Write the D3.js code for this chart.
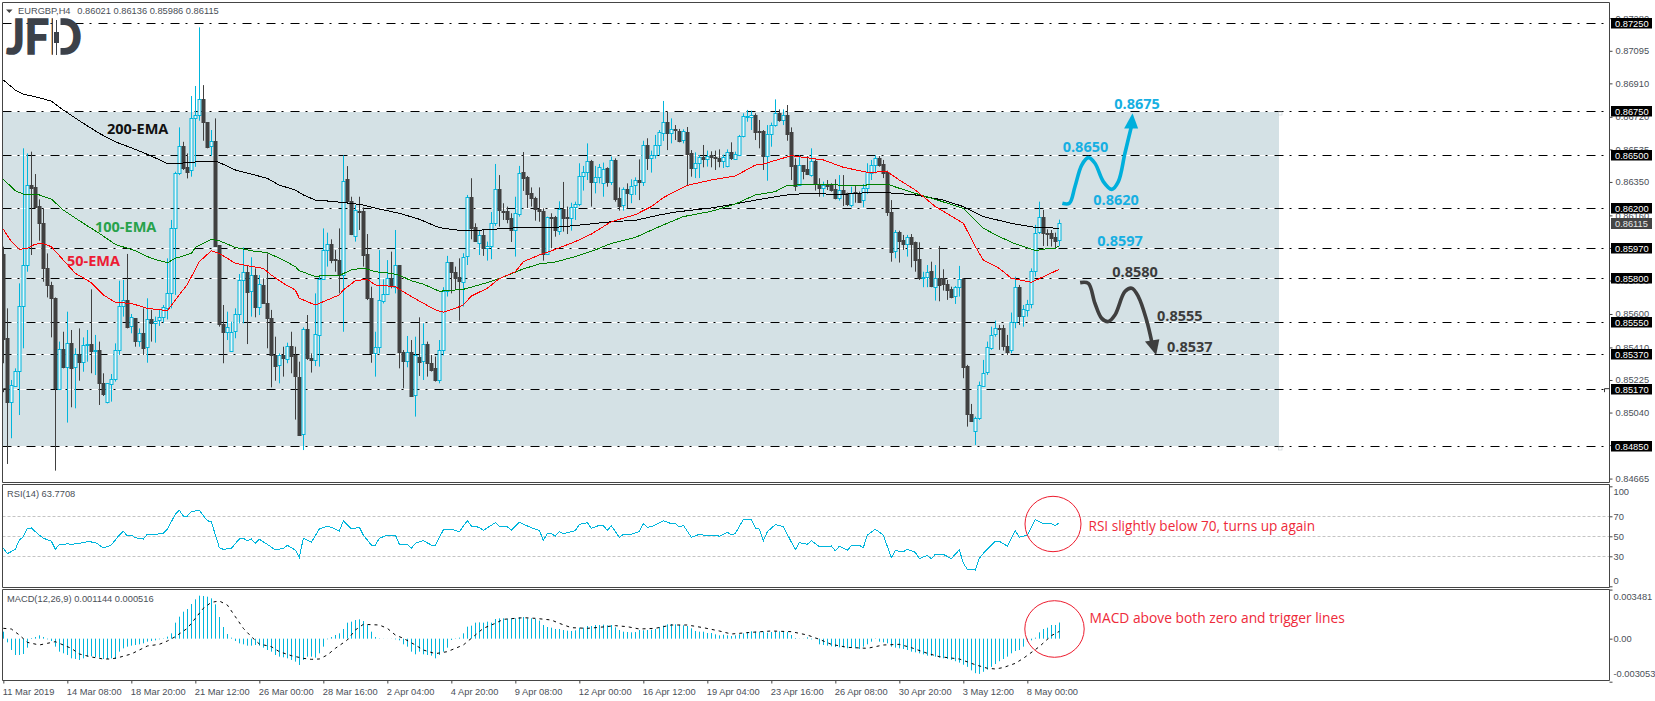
<!DOCTYPE html>
<html>
<head>
<meta charset="utf-8">
<script src="https://cdnjs.cloudflare.com/ajax/libs/d3/7.8.5/d3.min.js"></script>
<style>
  html, body { margin: 0; padding: 0; background: #fff; }
  svg { display: block; }
  text { font-family: "Liberation Sans", sans-serif; }
</style>
</head>
<body>
<div id="chart"></div>
<script>
// EURGBP H4 candles, prices in 1/100000
const opens = [
  85941,85462,85096,85195,85274,85645,85878,86332,86319,86213,
  86115,85859,85765,85689,85176,85399,85297,85433,85297,85373,
  85329,85422,85428,85388,85395,85210,85096,85206,85233,85395,
  85645,85679,85528,85575,85443,85490,85411,85569,85551,85566,
  85581,85638,85717,86088,86399,86554,86436,86414,86711,86728,
  86819,86690,86550,86580,85990,85541,85494,85392,85499,85598,
  85793,85840,85727,85821,85641,85765,85664,85575,85367,85308,
  85365,85346,85418,85365,85244,84915,85513,85348,85335,85481,
  85797,85963,85997,85910,85906,85821,86365,86240,86043,86185,
  86187,85941,85693,85380,85414,85672,85713,85802,85751,85876,
  85386,85335,85384,85138,85358,85329,85428,85320,85292,85225,
  85392,85729,85894,85839,85808,85784,85926,86263,86092,86001,
  86049,85977,85983,86115,86308,86187,86187,86145,86077,86172,
  86405,86378,86285,86259,86194,86185,85941,86149,86151,86073,
  86196,86149,86145,86206,86221,86380,86403,86467,86346,86376,
  86342,86429,86352,86475,86259,86217,86310,86282,86329,86359,
  86346,86558,86482,86501,86558,86626,86689,86626,86649,86641,
  86588,86634,86513,86429,86456,86492,86482,86501,86490,86484,
  86469,86437,86518,86482,86505,86611,86721,86721,86730,86639,
  86639,86497,86620,86670,86743,86702,86730,86634,86446,86331,
  86446,86422,86389,86469,86336,86312,86333,86333,86308,86255,
  86304,86285,86221,86293,86289,86244,86314,86403,86446,86484,
  86452,86405,86179,85956,86066,86020,85998,86039,86007,85911,
  85805,85808,85842,85755,85805,85803,85769,85740,85699,85752,
  85797,85307,85032,84932,85006,85195,85267,85411,85483,85521,
  85521,85418,85392,85553,85752,85585,85623,85655,85841,86062,
  86149,86062,86062,86036,86021
]
const highs = [
  85982,85632,85225,85291,85774,86541,86512,86522,86395,86251,
  86200,85944,85783,85694,85443,85499,85613,85509,85405,85518,
  85467,85509,85740,85481,85443,85263,85206,85259,85433,85789,
  85793,85941,85600,85575,85518,85632,85689,85623,85585,85623,
  85651,85916,86134,86408,86660,86578,86512,86838,86895,87228,
  86900,86690,86645,86711,85990,85651,85613,85556,85632,85827,
  85978,85878,85922,85859,85821,85802,85944,85623,85471,85376,
  85414,85437,85499,85414,85329,85524,85594,85376,85717,85821,
  86086,86062,86024,85963,86086,86501,86440,86266,86219,86266,
  86206,86054,85755,85499,85963,85797,85906,85954,86077,85878,
  85395,85475,85452,85471,85581,85547,85443,85367,85358,85452,
  85752,85930,85895,85869,85916,85945,86276,86371,86115,86077,
  86077,86011,86179,86452,86389,86229,86210,86172,86266,86441,
  86520,86384,86319,86266,86319,86200,86153,86172,86157,86240,
  86350,86210,86232,86238,86456,86441,86569,86475,86441,86452,
  86460,86433,86494,86484,86319,86319,86342,86365,86376,86478,
  86584,86598,86528,86617,86645,86810,86749,86711,86673,86651,
  86649,86662,86531,86518,86503,86560,86528,86524,86528,86535,
  86505,86535,86575,86522,86617,86740,86759,86755,86740,86702,
  86645,86673,86687,86819,86762,86762,86787,86660,86484,86503,
  86446,86497,86541,86478,86371,86352,86361,86342,86365,86389,
  86389,86289,86323,86327,86295,86338,86456,86475,86501,86497,
  86475,86414,86247,86077,86073,86049,86049,86054,86011,86007,
  85840,85878,85897,85878,85986,85854,85793,85755,85759,85873,
  85803,85311,85089,85017,85216,85339,85443,85528,85562,85538,
  85538,85481,85608,85812,85765,85651,85680,85859,86106,86238,
  86191,86081,86077,86062,86136
]
const lows = [
  85320,84748,84894,85187,85026,85405,85840,85935,86200,86016,
  85783,85694,85467,84710,85168,85291,84983,85070,85064,85221,
  85272,85329,85263,85253,85083,85134,85092,85102,85216,85367,
  85585,85518,85490,85414,85414,85367,85323,85443,85437,85532,
  85551,85569,85632,85708,86389,86418,86370,86380,86436,86698,
  86584,86541,86497,85982,85528,85320,85452,85392,85462,85547,
  85547,85429,85585,85581,85594,85664,85405,85183,85221,85206,
  85244,85320,85263,85000,84913,84827,85339,85267,85304,85301,
  85793,85869,85888,85840,85717,85499,86228,86048,86011,86077,
  85869,85679,85323,85244,85376,85660,85708,85746,85717,85291,
  85178,85297,85130,85017,85248,85225,85244,85273,85216,85206,
  85365,85699,85717,85736,85562,85642,85878,86024,86011,85935,
  85930,85903,85911,86100,86096,86134,86115,86009,85926,86153,
  86299,86202,86210,86130,86124,85903,85935,85973,86039,86049,
  86068,86054,86073,86134,86213,86301,86361,86210,86285,86342,
  86266,86323,86333,86238,86187,86187,86200,86229,86276,86247,
  86327,86418,86403,86482,86501,86583,86531,86569,86588,86575,
  86569,86331,86380,86372,86372,86433,86437,86433,86418,86433,
  86429,86433,86475,86475,86497,86603,86692,86645,86588,86541,
  86418,86357,86550,86664,86692,86673,86584,86361,86299,86327,
  86365,86389,86380,86301,86266,86266,86304,86295,86251,86244,
  86213,86213,86206,86232,86232,86206,86282,86361,86399,86437,
  86372,86157,85897,85916,85892,85964,85926,85865,85840,85793,
  85752,85752,85752,85676,85672,85733,85680,85689,85657,85699,
  85235,84960,84989,84856,84998,85187,85254,85396,85471,85396,
  85392,85367,85377,85519,85538,85528,85585,85632,85812,86054,
  85986,85986,85983,85973,85986
]
const closes = [
  85460,85096,85195,85278,85645,85878,86330,86317,86206,86115,
  85859,85761,85689,85176,85403,85297,85433,85293,85373,85329,
  85424,85428,85386,85395,85210,85145,85206,85233,85395,85645,
  85679,85524,85581,85443,85490,85407,85569,85547,85562,85581,
  85638,85721,86086,86399,86554,86427,86410,86711,86728,86819,
  86686,86550,86580,85986,85541,85494,85524,85499,85598,85793,
  85840,85727,85819,85641,85770,85664,85581,85367,85305,85365,
  85346,85418,85361,85244,84915,85513,85346,85335,85484,85797,
  85963,85997,85906,85903,85821,86357,86238,86054,86190,86179,
  85935,85693,85380,85414,85679,85713,85802,85755,85876,85380,
  85335,85384,85134,85365,85328,85428,85320,85282,85225,85396,
  85729,85894,85835,85805,85784,85926,86263,86088,86015,86047,
  85977,85986,86115,86308,86187,86181,86142,86077,86172,86403,
  86372,86283,86255,86194,86181,85939,86149,86142,86077,86196,
  86143,86142,86206,86223,86382,86405,86467,86350,86376,86433,
  86424,86350,86475,86255,86213,86308,86289,86329,86359,86346,
  86558,86482,86501,86558,86632,86689,86624,86649,86641,86583,
  86637,86509,86429,86456,86490,86482,86497,86488,86482,86469,
  86494,86518,86482,86509,86611,86725,86725,86730,86636,86636,
  86497,86622,86673,86740,86702,86728,86622,86441,86327,86446,
  86414,86393,86467,86338,86312,86331,86327,86304,86257,86302,
  86285,86221,86289,86285,86240,86314,86407,86448,86486,86446,
  86403,86179,85954,86066,86017,85998,86036,86001,85907,85805,
  85812,85837,85755,85805,85767,85767,85736,85695,85752,85797,
  85297,85036,84991,85008,85195,85267,85411,85483,85519,85517,
  85418,85386,85553,85752,85585,85627,85655,85844,86058,86149,
  86058,86058,86036,86013,86115
]

// moving averages, [bar, price]
const ema200 = [[0,86929],[3,86872],[5,86849],[9,86828],[12,86809],[15,86758],[20,86683],[24,86626],[28,86578],[33,86535],[37,86497],[41,86455],[43,86454],[49,86465],[53,86469],[56,86440],[58,86418],[62,86395],[66,86370],[69,86332],[73,86304],[75,86276],[78,86247],[82,86240],[87,86228],[90,86219],[94,86196],[99,86172],[104,86138],[109,86090],[114,86075],[120,86077],[126,86087],[133,86094],[139,86094],[145,86107],[152,86124],[158,86132],[164,86162],[168,86179],[177,86202],[183,86225],[189,86251],[197,86280],[204,86285],[208,86276],[217,86291],[221,86289],[228,86276],[235,86247],[240,86210],[245,86153],[252,86115],[258,86092],[264,86087]]
const ema100 = [[0,86365],[3,86300],[5,86281],[9,86276],[12,86253],[15,86190],[20,86115],[24,86058],[28,85995],[33,85959],[37,85916],[41,85891],[43,85916],[47,85944],[48,85978],[52,86024],[54,86016],[58,85978],[62,85959],[66,85948],[70,85906],[73,85869],[74,85846],[78,85812],[80,85819],[84,85819],[87,85850],[90,85861],[93,85840],[97,85831],[99,85820],[102,85789],[105,85769],[109,85729],[115,85740],[121,85778],[124,85801],[130,85856],[134,85884],[138,85895],[143,85926],[148,85964],[152,86001],[158,86035],[165,86106],[170,86153],[177,86183],[183,86225],[188,86276],[193,86295],[196,86331],[205,86337],[210,86331],[215,86331],[218,86337],[221,86337],[224,86314],[228,86285],[233,86251],[240,86200],[245,86087],[249,86039],[253,85998],[258,85960],[261,85971],[263,85973],[264,85988]]
const ema50 = [[0,86081],[2,86011],[4,85967],[6,85973],[8,85997],[10,85999],[12,85982],[15,85906],[18,85831],[22,85778],[25,85708],[28,85666],[32,85660],[36,85632],[41,85619],[43,85679],[46,85768],[49,85897],[52,85959],[54,85944],[58,85888],[61,85874],[65,85859],[67,85821],[70,85774],[73,85736],[74,85689],[78,85651],[82,85689],[84,85708],[85,85736],[88,85789],[91,85797],[93,85765],[98,85755],[102,85699],[105,85661],[108,85623],[110,85610],[113,85632],[115,85651],[117,85702],[121,85746],[124,85801],[128,85840],[130,85897],[134,85935],[138,85967],[143,86011],[147,86054],[152,86124],[158,86164],[162,86210],[165,86261],[171,86331],[177,86361],[183,86384],[188,86446],[190,86452],[197,86499],[205,86475],[210,86433],[216,86405],[221,86408],[224,86361],[228,86304],[233,86210],[240,86115],[243,85983],[245,85907],[249,85859],[252,85803],[257,85780],[261,85822],[264,85854]]

// RSI(14), [bar, value]
const rsiPoints = [[0,38],[1,32.6],[3,37],[4,46.3],[5,49.6],[6,58],[7,58.3],[8,54.6],[10,48],[12,45.3],[13,37],[14,42],[15,41.3],[16,42.6],[17,42],[19,43],[21,44.6],[23,44],[25,38.3],[27,41.3],[29,51.3],[30,55],[31,50.3],[32,51.3],[33,48.6],[35,47.3],[36,52],[38,52],[40,53],[41,57.3],[43,72],[44,76],[45,70.3],[46,70.3],[47,74.6],[49,76],[51,65.6],[52,64.6],[54,38.6],[55,37],[57,38],[59,47.3],[60,48],[61,45.3],[62,47.3],[63,43],[64,47],[66,42],[68,36.3],[70,38],[71,41],[73,36.3],[74,29],[75,48],[77,44],[79,57.3],[81,60.3],[83,57.3],[84,55.3],[85,65.3],[87,57.3],[89,59],[90,51.3],[92,41.3],[93,41.3],[94,48],[96,51.3],[98,51.3],[99,42],[101,42],[102,38],[103,43],[105,45.6],[107,41.3],[108,41.3],[110,56.3],[112,57.3],[114,54.6],[116,65.6],[117,60.3],[119,59],[120,56],[123,63.6],[124,60.3],[126,59.6],[127,56],[129,64],[132,58.6],[134,56],[135,46],[136,52.6],[137,52.6],[138,50.3],[139,54.6],[140,52.6],[143,55.6],[144,62],[146,63.6],[147,58],[149,61],[150,60.6],[151,56],[152,60.6],[154,49],[155,52],[157,52],[159,54.6],[160,62.6],[161,59],[162,59.6],[165,65.6],[167,62.6],[168,63],[169,59.3],[170,61],[172,49],[174,52],[175,51.3],[178,51.3],[179,50],[181,54],[182,51.3],[183,53],[185,66.6],[187,66.6],[188,58.3],[189,57.3],[190,45.6],[191,54.6],[193,61.6],[195,59.6],[198,36.6],[199,43.6],[201,42],[202,45.6],[204,39.6],[207,40.3],[208,35.6],[209,40],[211,36],[212,40.6],[214,41],[215,38.6],[216,51.3],[218,57],[220,51.3],[222,28.6],[223,35.6],[225,34.6],[226,37],[228,34],[229,27.6],[231,31],[232,27.6],[233,32],[235,32],[237,27.6],[239,36.6],[240,23],[241,17],[243,16.3],[244,28],[245,33],[247,41.3],[248,45],[249,45],[251,40.3],[253,55.6],[254,49],[256,51.3],[258,66.6],[260,62.6],[262,62.6],[263,60.6],[264,63.8]]

// MACD(12,26,9) main, one value per bar, in millionths
const macdMain = [
  496,-260,-804,-1158,-1158,-1087,-638,47,118,236,
  118,-47,-165,-567,-922,-1040,-1158,-1395,-1442,-1513,
  -1395,-1277,-1253,-1300,-1347,-1442,-1442,-1395,-1442,-922,
  -686,-567,-496,-449,-402,-331,-213,-165,-118,-47,
  -24,142,378,1135,1560,1915,2104,2459,2790,3050,
  3026,2979,2860,2435,1537,827,331,71,-165,-331,
  -402,-496,-496,-449,-496,-638,-804,-922,-1158,-1277,
  -1324,-1395,-1513,-1631,-1868,-1513,-1277,-1277,-1347,-1040,
  -567,-47,118,260,378,686,1135,1206,1324,1371,
  1253,969,496,118,24,10,5,-10,-47,-118,
  -402,-567,-922,-1111,-922,-1111,-1158,-1206,-1395,-1158,
  -922,-638,-95,-24,71,378,851,922,1135,1158,
  1135,1206,1135,1395,1442,1442,1418,1442,1442,1513,
  1537,1442,1442,1395,1277,969,827,780,686,686,
  615,567,544,591,780,780,898,898,969,969,
  993,946,969,804,615,496,473,449,473,615,
  591,615,638,686,804,922,1017,1040,1017,969,
  946,898,733,544,496,496,402,402,307,236,
  284,236,189,236,307,378,473,520,496,496,
  496,426,473,520,520,520,473,260,47,12,
  -10,95,-47,-24,-402,-449,-496,-544,-591,-615,
  -615,-686,-638,-686,-733,-567,-402,-213,-24,-213,
  -260,-331,-567,-638,-686,-733,-804,-922,-969,-1040,
  -1111,-1206,-1229,-1277,-1347,-1395,-1442,-1513,-1600,-1700,
  -1850,-2000,-2250,-2450,-2500,-2350,-2200,-2000,-1800,-1600,
  -1442,-1277,-1040,-875,-804,-567,-213,-118,71,449,
  686,780,969,969,1144
]
// signal line, [bar, millionths]
const macdSignal = [[0,733],[2,686],[4,260],[6,-260],[9,-449],[11,-331],[13,-213],[15,-449],[17,-686],[19,-1087],[22,-1300],[25,-1442],[27,-1442],[29,-1324],[32,-1087],[34,-804],[36,-520],[39,-402],[41,-165],[43,142],[46,733],[48,1442],[50,2151],[52,2577],[54,2671],[56,2388],[58,1560],[60,733],[62,142],[64,-378],[67,-567],[69,-922],[72,-1206],[75,-1395],[77,-1466],[79,-1442],[81,-1158],[83,-686],[86,-95],[88,615],[90,1017],[94,969],[96,733],[98,260],[100,24],[103,-449],[105,-804],[108,-1064],[111,-922],[115,-449],[118,260],[120,733],[123,1087],[125,1371],[130,1489],[133,1442],[137,1324],[139,1087],[142,780],[146,733],[149,804],[153,922],[156,851],[159,686],[163,733],[167,969],[171,969],[175,780],[179,544],[182,331],[187,449],[192,544],[197,496],[201,260],[204,-47],[207,-402],[211,-615],[216,-686],[220,-449],[224,-402],[227,-638],[231,-1040],[234,-1277],[239,-1442],[243,-1850],[246,-2100],[248,-2150],[250,-2050],[253,-1750],[255,-1395],[259,-567],[262,213],[264,516]]

const levelPrices = [0.8725, 0.8675, 0.865, 0.862, 0.8597, 0.858, 0.8555, 0.8537, 0.8517, 0.8485]
const priceTicks = [0.8728, 0.87095, 0.8691, 0.8672, 0.86535, 0.8635, 0.8616, 0.85975, 0.8579, 0.856, 0.8541, 0.85225, 0.8504, 0.84855, 0.84665]
const rsiTicks = [100, 70, 50, 30, 0]
const macdTicks = [3481, 0, -3053]
const timeLabels = ['11 Mar 2019', '14 Mar 08:00', '18 Mar 20:00', '21 Mar 12:00', '26 Mar 00:00', '28 Mar 16:00', '2 Apr 04:00', '4 Apr 20:00', '9 Apr 08:00', '12 Apr 00:00', '16 Apr 12:00', '19 Apr 04:00', '23 Apr 16:00', '26 Apr 08:00', '30 Apr 20:00', '3 May 12:00', '8 May 00:00']

// forecast arrows, [bar, price]
const upPath = [[264.75,86229],[266.5,86229],[267.9,86323],[269.6,86446],[271.25,86488],[272.9,86456],[275,86352],[277.1,86308],[278.75,86352],[280.4,86513],[282.1,86673]]
const upHead = [[282.3,86740],[280.2,86654],[283.7,86653]]
const downPath = [[269.2,85778],[271.25,85774],[272.9,85661],[274.6,85575],[276.25,85557],[277.9,85594],[280.4,85727],[282.1,85746],[283.75,85699],[285.8,85566],[287.1,85443]]
const downHead = [[288.2,85367],[285.4,85443],[289,85456]]

const width = 1655
const height = 701
const params = {
  left: 2.5, right: 1609.5,
  mainTop: 2.5, mainBottom: 482.5,
  rsiTop: 484.5, rsiBottom: 587.5,
  macdTop: 589.5, macdBottom: 680.5,
}
const blue = '#00b5dc'
const dark = '#404040'
const axisText = '#4a4f57'
const red = '#ed1c2e'

const svg = d3.select('#chart').append('svg').attr('width', width).attr('height', height)

const x = d3.scaleLinear().domain([0, 264]).range([3.33, 1059.33])
const y = d3.scaleLinear().domain([0.8725, 0.8485]).range([23.5, 446])
const yP = v => y(v / 100000)
const yRsi = d3.scaleLinear().domain([100, 0]).range([486.3, 586.3])
const yMacd = d3.scaleLinear().domain([3481, -3053]).range([589.6, 681.7])

svg.append('clipPath').attr('id', 'mainClip').append('rect')
  .attr('x', params.left).attr('y', params.mainTop)
  .attr('width', params.right - params.left).attr('height', params.mainBottom - params.mainTop)
svg.append('clipPath').attr('id', 'macdClip').append('rect')
  .attr('x', params.left).attr('y', params.macdTop)
  .attr('width', params.right - params.left).attr('height', params.macdBottom - params.macdTop)

// shaded range
svg.append('rect')
  .attr('x', params.left)
  .attr('y', y(0.8675))
  .attr('width', 1279 - params.left)
  .attr('height', y(0.8485) - y(0.8675))
  .attr('fill', '#d4e1e5')

// horizontal levels
const levels = svg.append('g').selectAll('g').data(levelPrices).enter().append('g')
levels.append('line')
  .attr('x1', params.left).attr('x2', params.right)
  .attr('y1', d => Math.floor(y(d)) + 0.5).attr('y2', d => Math.floor(y(d)) + 0.5)
  .attr('stroke', '#fff')
levels.append('line')
  .attr('x1', params.left).attr('x2', params.right)
  .attr('y1', d => Math.floor(y(d)) + 0.5).attr('y2', d => Math.floor(y(d)) + 0.5)
  .attr('stroke', '#000')
  .attr('stroke-dasharray', '9,6,2,7')

// small anchors of the shaded rectangle
svg.append('g').selectAll('rect').data([0.8675, 0.8485]).enter().append('rect')
  .attr('x', 1278.5).attr('y', d => Math.floor(y(d)) + 1)
  .attr('width', 3.5).attr('height', 3)
  .attr('fill', '#fff').attr('stroke', '#ccd4d8').attr('stroke-width', 0.7)

// candles
const bars = d3.range(opens.length)
const candles = svg.append('g').attr('clip-path', 'url(#mainClip)')
candles.selectAll('line').data(bars).enter().append('line')
  .attr('x1', d => Math.round(x(d)) + 0.5).attr('x2', d => Math.round(x(d)) + 0.5)
  .attr('y1', d => yP(highs[d])).attr('y2', d => yP(lows[d]))
  .attr('stroke', d => closes[d] >= opens[d] ? blue : dark)
candles.selectAll('rect').data(bars).enter().append('rect')
  .attr('x', d => Math.round(x(d)) - 1)
  .attr('width', 3)
  .attr('y', d => Math.round(yP(Math.max(opens[d], closes[d]))) + 0.5)
  .attr('height', d => Math.max(1, Math.round(Math.abs(yP(opens[d]) - yP(closes[d])))))
  .attr('fill', d => closes[d] >= opens[d] ? '#eaf6f9' : dark)
  .attr('stroke', d => closes[d] >= opens[d] ? blue : dark)

// moving averages
const emaLine = d3.line().x(d => x(d[0])).y(d => yP(d[1]))
const emaColors = [[ema200, '#000'], [ema100, '#008000'], [ema50, '#ff0000']]
svg.append('g').attr('clip-path', 'url(#mainClip)')
  .selectAll('path').data(emaColors).enter().append('path')
  .attr('d', d => emaLine(d[0]))
  .attr('fill', 'none').attr('stroke', d => d[1]).attr('stroke-width', 1)
  .attr('shape-rendering', 'crispEdges')

// chart notes
function note(txt, px, py, color, size) {
  svg.append('text').attr('x', px).attr('y', py).text(txt)
    .attr('fill', color)
    .style('font-family', '"Open Sans", sans-serif')
    .style('font-weight', 700)
    .style('font-size', (size || 14.5) + 'px')
}
note('200-EMA', 107, 134, '#111')
note('100-EMA', 95, 232, '#27a24b')
note('50-EMA', 67, 266, '#ec1c34')
const labelBlue = '#16afe2'
const labelDark = '#3c3c3c'
note('0.8675', 1114.3, 109.3, labelBlue)
note('0.8650', 1062.7, 152, labelBlue)
note('0.8620', 1093.3, 205, labelBlue)
note('0.8597', 1097.3, 246, labelBlue)
note('0.8580', 1112.3, 277, labelDark)
note('0.8555', 1157, 321, labelDark)
note('0.8537', 1167, 352.3, labelDark)

// forecast arrows
const arrowLine = d3.line().x(d => x(d[0])).y(d => yP(d[1])).curve(d3.curveCatmullRom)
svg.append('path').attr('d', arrowLine(upPath))
  .attr('fill', 'none').attr('stroke', '#00afdc').attr('stroke-width', 3.6)
svg.append('path').attr('d', d3.line().x(d => x(d[0])).y(d => yP(d[1]))(upHead) + 'Z').attr('fill', '#00afdc')
svg.append('path').attr('d', arrowLine(downPath))
  .attr('fill', 'none').attr('stroke', '#3f3f3f').attr('stroke-width', 3.6)
svg.append('path').attr('d', d3.line().x(d => x(d[0])).y(d => yP(d[1]))(downHead) + 'Z').attr('fill', '#3f3f3f')

// logo
const logo = svg.append('g')
logo.append('text').attr('x', 6.5).attr('y', 54).text('JFD')
  .attr('fill', '#3c4149').attr('stroke', '#3c4149').attr('stroke-width', 1.7)
  .attr('textLength', 75).attr('lengthAdjust', 'spacingAndGlyphs')
  .style('font-family', 'Lato, sans-serif').style('font-weight', 700).style('font-size', '47px')
logo.append('rect').attr('x', 53).attr('y', 18).attr('width', 7.5).attr('height', 39).attr('fill', '#fff')
logo.append('line').attr('x1', 56.5).attr('x2', 56.5).attr('y1', 20).attr('y2', 55).attr('stroke', '#3c4149')
logo.append('rect').attr('x', 54).attr('y', 32).attr('width', 5).attr('height', 11).attr('fill', '#3c4149')

// RSI pane
svg.append('g').selectAll('line').data([70, 50, 30]).enter().append('line')
  .attr('x1', params.left).attr('x2', params.right)
  .attr('y1', d => Math.round(yRsi(d)) + 0.5).attr('y2', d => Math.round(yRsi(d)) + 0.5)
  .attr('stroke', '#c4c4c4').attr('stroke-dasharray', '3,2')
svg.append('path')
  .attr('d', d3.line().x(d => x(d[0])).y(d => yRsi(d[1]))(rsiPoints))
  .attr('fill', 'none').attr('stroke', blue).attr('stroke-width', 1)
  .attr('shape-rendering', 'crispEdges')

// MACD pane
const macdPane = svg.append('g').attr('clip-path', 'url(#macdClip)')
macdPane.selectAll('line').data(macdMain).enter().append('line')
  .attr('x1', (d, i) => Math.round(x(i)) + 0.5).attr('x2', (d, i) => Math.round(x(i)) + 0.5)
  .attr('y1', yMacd(0)).attr('y2', d => yMacd(d))
  .attr('stroke', blue)
macdPane.append('path')
  .attr('d', d3.line().x(d => x(d[0])).y(d => yMacd(d[1]))(macdSignal))
  .attr('fill', 'none').attr('stroke', '#000').attr('stroke-dasharray', '3,4')

// red circles and comments
svg.append('ellipse').attr('cx', 1053).attr('cy', 524).attr('rx', 28).attr('ry', 27.7)
  .attr('fill', 'none').attr('stroke', red)
svg.append('ellipse').attr('cx', 1054.5).attr('cy', 629).attr('rx', 29.7).attr('ry', 28.3)
  .attr('fill', 'none').attr('stroke', red)
svg.append('text').attr('x', 1088.5).attr('y', 531).text('RSI slightly below 70, turns up again')
  .attr('fill', '#ee2a3a').style('font-family', '"Open Sans", sans-serif').style('font-size', '13.6px')
svg.append('text').attr('x', 1089.5).attr('y', 622.7).text('MACD above both zero and trigger lines')
  .attr('fill', '#ee2a3a').style('font-family', '"Open Sans", sans-serif').style('font-size', '13.8px')

// axes
function styleAxis(g) {
  g.select('.domain').remove()
  g.selectAll('.tick line').attr('stroke', '#444')
  g.selectAll('.tick text').attr('fill', axisText).style('font-size', '9.3px').style('font-family', '"Liberation Sans", sans-serif')
}
svg.append('g').attr('transform', `translate(${params.right},0)`)
  .call(d3.axisRight(y).tickValues(priceTicks).tickFormat(d3.format('.5f')).tickSize(3).tickPadding(3))
  .call(styleAxis)

svg.append('g').attr('transform', `translate(${params.right},0)`)
  .call(d3.axisRight(yRsi).tickValues(rsiTicks).tickFormat(d3.format('d')).tickSize(3).tickPadding(1))
  .call(styleAxis)
  .call(g => g.selectAll('.tick text').attr('dy', d => d === 100 ? '0.85em' : d === 0 ? '-0.35em' : '0.32em'))

const macdLabels = { 3481: '0.003481', 0: '0.00', '-3053': '-0.003053' }
svg.append('g').attr('transform', `translate(${params.right},0)`)
  .call(d3.axisRight(yMacd).tickValues(macdTicks).tickFormat(d => macdLabels[d]).tickSize(3).tickPadding(1))
  .call(styleAxis)
  .call(g => g.selectAll('.tick text').attr('dy', d => d === 3481 ? '1.1em' : d === -3053 ? '-0.6em' : '0.32em'))

svg.append('g').attr('transform', `translate(0,${params.macdBottom})`)
  .call(d3.axisBottom(x).tickValues(timeLabels.map((d, i) => i * 16)).tickFormat((d, i) => timeLabels[i]).tickSize(3).tickPadding(5))
  .call(styleAxis)
  .call(g => g.selectAll('.tick text').attr('text-anchor', 'start').attr('x', -1))

// price boxes on the right scale
const boxes = svg.append('g').selectAll('g').data(levelPrices).enter().append('g')
  .attr('transform', d => `translate(1611,${Math.floor(y(d)) - 5})`)
boxes.append('rect').attr('width', 41).attr('height', 10.5).attr('fill', '#000')
boxes.append('text').attr('x', 4).attr('y', 8.7).text(d => d3.format('.5f')(d))
  .attr('fill', '#fff').style('font-size', '9.3px')
const lastBox = svg.append('g').attr('transform', `translate(1611,${Math.round(yP(closes[264])) - 5})`)
lastBox.append('rect').attr('width', 41).attr('height', 11).attr('fill', '#454545')
lastBox.append('text').attr('x', 4).attr('y', 9).text(d3.format('.5f')(closes[264] / 100000))
  .attr('fill', '#e8e8e8').style('font-size', '9.3px')

// pane frames
const frames = [[params.mainTop, params.mainBottom], [params.rsiTop, params.rsiBottom], [params.macdTop, params.macdBottom]]
svg.append('g').selectAll('path').data(frames).enter().append('path')
  .attr('d', d => `M${params.left},${d[1]}V${d[0]}H${params.right}V${d[1]}H${params.left}`)
  .attr('fill', 'none').attr('stroke', '#454545').attr('stroke-width', 1)

// little corner marks on the 0.8517 line
svg.append('path').attr('d', `M1604.5,${y(0.8517) + 2.5}v-3.5h5`).attr('fill', 'none').attr('stroke', '#333')
svg.append('path').attr('d', `M3.5,${y(0.8517) + 2.5}v-3.5h3`).attr('fill', 'none').attr('stroke', '#333')

// header texts
svg.append('path').attr('d', 'M6,9.5h6.5l-3.2,3.6Z').attr('fill', '#444')
svg.append('text').attr('x', 18).attr('y', 13.5).text('EURGBP,H4')
  .attr('fill', axisText).style('font-size', '9.3px')
svg.append('text').attr('x', 77.3).attr('y', 13.5).text('0.86021 0.86136 0.85986 0.86115')
  .attr('fill', axisText).style('font-size', '9.3px')
svg.append('text').attr('x', 7).attr('y', 496.6).text('RSI(14) 63.7708')
  .attr('fill', axisText).style('font-size', '9.3px')
svg.append('text').attr('x', 7).attr('y', 601.7).text('MACD(12,26,9) 0.001144 0.000516')
  .attr('fill', axisText).style('font-size', '9.3px')
</script>
</body>
</html>
